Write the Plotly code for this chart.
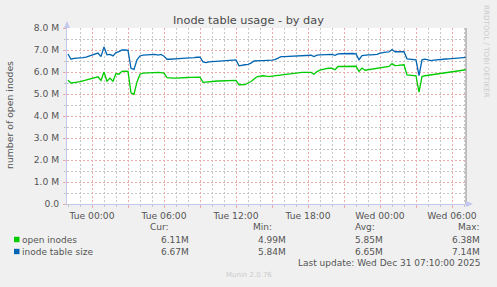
import pandas as pd
import plotly.graph_objects as go

# ---------------- data ----------------
start_time = "2025-12-29 22:00"
step = "15min"

open_inodes = [
    5.62, 5.50, 5.52, 5.53, 5.56, 5.60, 5.63, 5.66, 5.69, 5.74,
    5.78, 5.62, 6.00, 5.58, 5.72, 5.58, 5.93, 5.90, 6.03, 6.04,
    6.03, 5.05, 4.99, 5.55, 5.90, 5.95, 5.96, 5.97, 5.98, 5.98,
    5.98, 5.97, 5.95, 5.74, 5.72, 5.72, 5.72, 5.72, 5.73, 5.74,
    5.75, 5.76, 5.76, 5.77, 5.77, 5.53, 5.55, 5.56, 5.57, 5.58,
    5.59, 5.60, 5.60, 5.61, 5.62, 5.62, 5.62, 5.42, 5.42, 5.43,
    5.50, 5.57, 5.68, 5.78, 5.81, 5.83, 5.81, 5.79, 5.81, 5.83,
    5.85, 5.87, 5.89, 5.91, 5.93, 5.95, 5.97, 5.98, 5.98, 5.98,
    5.98, 5.98, 5.90, 6.02, 6.08, 6.13, 6.15, 6.17, 6.17, 6.10,
    6.25, 6.25, 6.25, 6.26, 6.26, 6.26, 6.26, 6.03, 6.18, 6.08,
    6.10, 6.11, 6.12, 6.14, 6.16, 6.19, 6.22, 6.25, 6.38, 6.29,
    6.30, 6.31, 6.33, 5.87, 5.86, 5.85, 5.83, 5.08, 5.79, 5.83,
    5.85, 5.87, 5.89, 5.91, 5.93, 5.95, 5.96, 5.98, 6.00, 6.02,
    6.03, 6.06, 6.09, 6.11,
]

inode_table_size = [
    6.82, 6.58, 6.62, 6.62, 6.62, 6.65, 6.68, 6.72, 6.75, 6.80,
    6.86, 6.70, 7.14, 6.78, 6.80, 6.73, 6.88, 6.93, 7.00, 7.00,
    6.98, 6.17, 6.12, 6.55, 6.73, 6.77, 6.78, 6.80, 6.82, 6.80,
    6.77, 6.80, 6.72, 6.58, 6.58, 6.58, 6.60, 6.61, 6.62, 6.62,
    6.62, 6.62, 6.65, 6.67, 6.67, 6.46, 6.43, 6.46, 6.47, 6.48,
    6.50, 6.50, 6.52, 6.53, 6.55, 6.55, 6.55, 6.28, 6.32, 6.33,
    6.35, 6.40, 6.50, 6.52, 6.52, 6.52, 6.52, 6.53, 6.54, 6.56,
    6.63, 6.70, 6.70, 6.71, 6.72, 6.73, 6.74, 6.75, 6.76, 6.77,
    6.77, 6.76, 6.70, 6.77, 6.78, 6.79, 6.80, 6.81, 6.80, 6.76,
    6.82, 6.83, 6.84, 6.84, 6.85, 6.84, 6.82, 6.56, 6.74, 6.77,
    6.78, 6.78, 6.79, 6.80, 6.86, 6.89, 6.90, 6.91, 7.02, 6.92,
    6.92, 6.92, 6.92, 6.60, 6.58, 6.56, 6.55, 5.84, 6.55, 6.58,
    6.54, 6.52, 6.54, 6.56, 6.58, 6.58, 6.59, 6.60, 6.61, 6.62,
    6.62, 6.64, 6.66, 6.67,
]

series_names = ["open inodes", "inode table size"]
series_colors = ["#00CC00", "#0066B3"]
stat_headers = ["Cur:", "Min:", "Avg:", "Max:"]
stats_open = ["6.11M", "4.99M", "5.85M", "6.38M"]
stats_table = ["6.67M", "5.84M", "6.65M", "7.14M"]

# y axis: minor grid every 0.5 M, labelled major grid every 1 M
y_minor_values = [0, 0.5e6, 1e6, 1.5e6, 2e6, 2.5e6, 3e6, 3.5e6, 4e6,
                  4.5e6, 5e6, 5.5e6, 6e6, 6.5e6, 7e6, 7.5e6, 8e6]
y_minor_labels = ["0.0", "", "1.0 M", "", "2.0 M", "", "3.0 M", "", "4.0 M",
                  "", "5.0 M", "", "6.0 M", "", "7.0 M", "", "8.0 M"]
y_major_values = [0, 1e6, 2e6, 3e6, 4e6, 5e6, 6e6, 7e6, 8e6]

# x axis: minor grid every hour, red grid every 3 h, labels every 6 h
x_hour_start = "2025-12-29 22:00"
x_hour_count = 34
x_major_times = ["2025-12-30 00:00", "2025-12-30 03:00", "2025-12-30 06:00", "2025-12-30 09:00",
                 "2025-12-30 12:00", "2025-12-30 15:00", "2025-12-30 18:00", "2025-12-30 21:00",
                 "2025-12-31 00:00", "2025-12-31 03:00", "2025-12-31 06:00"]
x_label_map = {"2025-12-30 00:00": "Tue 00:00", "2025-12-30 06:00": "Tue 06:00",
               "2025-12-30 12:00": "Tue 12:00", "2025-12-30 18:00": "Tue 18:00",
               "2025-12-31 00:00": "Wed 00:00", "2025-12-31 06:00": "Wed 06:00"}

x_range = ["2025-12-29 21:55:00", "2025-12-31 07:10:00"]

title_text = "Inode table usage - by day"
y_title = "number of open inodes"
last_update = "Last update: Wed Dec 31 07:10:00 2025"
credit = "RRDTOOL / TOBI OETIKER"
munin_ver = "Munin 2.0.76"

# ---------------- figure ----------------
W, H = 497, 287
L, R, T, B = 67, 466, 28, 204

def px(x):
    return (x - L) / (R - L)

def py(y):
    return (B - y) / (B - T)

times = pd.date_range(start_time, periods=len(open_inodes), freq=step)
hour_times = pd.date_range(x_hour_start, periods=x_hour_count, freq="1h")
hour_vals = [t.strftime("%Y-%m-%d %H:%M") for t in hour_times]
hour_text = [x_label_map.get(v, "") for v in hour_vals]

fig = go.Figure()
for name, vals, col in zip(series_names, [open_inodes, inode_table_size], series_colors):
    fig.add_trace(go.Scatter(
        x=times, y=[v * 1e6 for v in vals], mode="lines", name=name,
        line=dict(color=col, width=1.3), showlegend=False, hoverinfo="skip"))
# empty trace to create the overlay subplot holding the red major grid
fig.add_trace(go.Scatter(x=[], y=[], xaxis="x2", yaxis="y2", showlegend=False,
                         hoverinfo="skip"))

FONT = "DejaVu Sans"
major_grid = "#ecaaaa"
minor_grid = "#c6c6c6"
axis_col = "#c3c9ee"
DASH = "2px,2px"

fig.update_layout(
    width=W, height=H, autosize=False,
    margin=dict(l=L, r=W - R, t=T, b=H - B, pad=0),
    paper_bgcolor="#F0F0F0", plot_bgcolor="#FFFFFF",
    font=dict(family=FONT, size=9, color="#555555"),
    showlegend=False,
    xaxis=dict(
        type="date", range=x_range,
        tickmode="array", tickvals=hour_vals, ticktext=hour_text,
        tickfont=dict(size=9.2, color="#555555"),
        showgrid=True, gridcolor=minor_grid, griddash=DASH, gridwidth=1,
        ticks="outside", ticklen=2, tickcolor="#c4c4c4", tickwidth=1,
        ticklabelstandoff=1,
        showline=True, linecolor=axis_col, linewidth=1,
        zeroline=False, fixedrange=True,
    ),
    yaxis=dict(
        range=[0, 8e6],
        tickmode="array", tickvals=y_minor_values, ticktext=y_minor_labels,
        tickfont=dict(size=9.2, color="#555555"),
        showgrid=True, gridcolor=minor_grid, griddash=DASH, gridwidth=1,
        ticks="outside", ticklen=2, tickcolor="#c4c4c4", tickwidth=1,
        ticklabelstandoff=3,
        showline=True, linecolor=axis_col, linewidth=1,
        zeroline=False, fixedrange=True,
    ),
    xaxis2=dict(
        type="date", range=x_range, overlaying="x", anchor="y2", side="bottom",
        tickmode="array", tickvals=x_major_times, ticktext=[""] * len(x_major_times),
        showgrid=True, gridcolor=major_grid, griddash=DASH, gridwidth=1,
        ticks="outside", ticklen=3, tickcolor=major_grid, tickwidth=1,
        showline=False, zeroline=False, fixedrange=True, showticklabels=False,
    ),
    yaxis2=dict(
        range=[0, 8e6], overlaying="y", anchor="x2", side="left",
        tickmode="array", tickvals=y_major_values, ticktext=[""] * len(y_major_values),
        showgrid=True, gridcolor=major_grid, griddash=DASH, gridwidth=1,
        ticks="outside", ticklen=3, tickcolor=major_grid, tickwidth=1,
        showline=False, zeroline=False, fixedrange=True, showticklabels=False,
    ),
)

# frame on right + axis arrows
fig.add_shape(type="line", xref="paper", yref="paper", x0=1, x1=1, y0=0, y1=1,
              line=dict(color="#888888", width=1))
fig.add_shape(type="path", xref="paper", yref="paper",
              path=f"M {px(64)} {py(28)} L {px(70)} {py(28)} L {px(67)} {py(21)} Z",
              fillcolor="#c3c9ee", line=dict(width=0))
fig.add_shape(type="path", xref="paper", yref="paper",
              path=f"M {px(466)} {py(201)} L {px(466)} {py(207)} L {px(473)} {py(204)} Z",
              fillcolor="#c3c9ee", line=dict(width=0))

def ann(text, x, y, xanchor="left", size=9, color="#555555", angle=0):
    fig.add_annotation(text=text, xref="paper", yref="paper", x=px(x), y=py(y),
                       xanchor=xanchor, yanchor="middle", showarrow=False,
                       textangle=angle, font=dict(family=FONT, size=size, color=color))

ann(title_text, 248, 20, "center", size=11.3, color="#4a4a4a")
ann(y_title, 10, 115, "center", size=9.3, angle=-90)
ann(credit, 487, 51, "center", size=7.2, color="#cccccc", angle=90)

# legend
header_left = [148, 251, 353, 456]
value_right = [191, 288, 385, 482]
for h, xl in zip(stat_headers, header_left):
    ann(h, xl, 227, "left")

row_y = [239.5, 251.5]
for name, col, stats, yy in zip(series_names, series_colors, [stats_open, stats_table], row_y):
    fig.add_shape(type="rect", xref="paper", yref="paper",
                  x0=px(14), x1=px(19.5), y0=py(yy - 2.7), y1=py(yy + 2.7),
                  fillcolor=col, line=dict(width=0))
    ann(name, 19.5, yy, "left")
    for s, xr in zip(stats, value_right):
        ann(s, xr, yy, "right")

ann(last_update, 482, 263, "right")
ann(munin_ver, 248.5, 275, "center", size=7, color="#cccccc")

fig.write_html("out.html")
